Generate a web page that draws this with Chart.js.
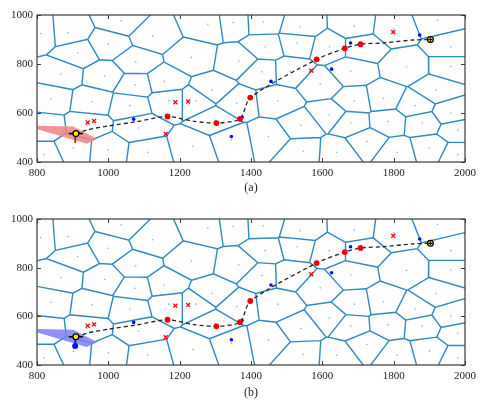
<!DOCTYPE html>
<html>
<head>
<meta charset="utf-8">
<script src="https://cdn.jsdelivr.net/npm/chart.js@4.4.1/dist/chart.umd.min.js"></script>
<style>
  body { margin: 0; background: #fff; width: 481px; height: 400px; overflow: hidden; }
  .box { position: absolute; left: 0; width: 481px; height: 200px; }
</style>
</head>
<body>
<div class="box" style="top:0"><canvas id="chartA" width="481" height="200"></canvas></div>
<div class="box" style="top:200px"><canvas id="chartB" width="481" height="200"></canvas></div>
<script>
const X_TICKS = [800, 1000, 1200, 1400, 1600, 1800, 2000];
const Y_TICKS = [400, 600, 800, 1000];

// voronoi generators (the small dots)
const SEEDS = [
  [810,924],[887,928],[1036,976],[1124,915],[1279,962],[1350,969],[1435,972],[1538,951],
  [1690,955],[1800,945],[1923,978],
  [914,846],[1000,880],[1077,808],[1233,827],[1366,812],[1440,870],[1529,886],[1620,870],
  [1710,870],[1836,789],[1960,870],
  [867,759],[990,751],[1075,715],[1157,729],[1290,694],[1430,768],[1510,770],[1594,717],
  [1680,770],[1919,694],[1960,790],
  [839,658],[954,647],[1060,630],[1170,650],[1245,650],[1360,640],[1475,650],[1619,593],
  [1690,650],[1771,660],[1860,630],[1960,600],
  [820,540],[940,550],[1085,539],[1300,570],[1449,504],[1540,550],[1680,560],[1785,565],
  [1880,560],[1980,530],
  [820,430],[902,456],[1000,450],[1110,440],[1237,464],[1345,490],[1546,444],[1640,440],
  [1725,484],[1810,440],[1900,457],[1980,430]
];

const PATH_X = [909, 945, 1000, 1080, 1166, 1240, 1303, 1369, 1398, 1584, 1663, 1707, 1770, 1855, 1903];
const PATH_Y = [516, 533, 547, 565, 586, 566, 559, 576, 663, 819, 864, 881, 886, 898, 900];

const RED_DOTS_X = [1166, 1303, 1369, 1398, 1584, 1663, 1707];
const RED_DOTS_Y = [586, 559, 576, 663, 819, 864, 881];

const RED_X_X = [942, 960, 1188, 1224, 1161, 1569, 1799];
const RED_X_Y = [561, 567, 644, 647, 514, 773, 931];

const BLUE_X = [1071, 1345, 1375, 1456, 1626, 1679, 1873];
const BLUE_Y = [575, 504, 583, 729, 779, 886, 918];

const START = [909, 516];
const GOAL = [1903, 900];
const HEADING = [907, 478];

const CELL_X = [801, 902, 969, 939, 801];
const CELL_Y = [548, 545, 494, 474, 534];

const clipHalf = (poly, a, b, c) => {
  const out = [];
  for (let k = 0; k < poly.length; k++) {
    const P = poly[k], Q = poly[(k + 1) % poly.length];
    const fp = a * P[0] + b * P[1] - c, fq = a * Q[0] + b * Q[1] - c;
    if (fp <= 0) out.push(P);
    if ((fp < 0 && fq > 0) || (fp > 0 && fq < 0)) {
      const t = fp / (fp - fq);
      out.push([P[0] + t * (Q[0] - P[0]), P[1] + t * (Q[1] - P[1])]);
    }
  }
  return out;
};

const cellOf = i => {
  let poly = [[700, 300], [2100, 300], [2100, 1100], [700, 1100]];
  const [px, py] = SEEDS[i];
  SEEDS.forEach(([qx, qy], j) => {
    if (j === i) return;
    poly = clipHalf(poly, 2 * (qx - px), 2 * (qy - py), qx * qx + qy * qy - px * px - py * py);
  });
  return poly;
};

const edgeData = [];
SEEDS.forEach((_, i) => {
  const poly = cellOf(i);
  poly.forEach(p => edgeData.push({x: p[0], y: p[1]}));
  if (poly.length) edgeData.push({x: poly[0][0], y: poly[0][1]});
  edgeData.push({x: null, y: null});
});

const zip = (xs, ys) => xs.map((x, i) => ({x, y: ys[i]}));

const framePlugin = {
  id: 'frame',
  afterDatasetsDraw(chart) {
    const {ctx, chartArea: a, scales: {x, y}} = chart;
    ctx.save();
    ctx.strokeStyle = '#3a3a3a';
    ctx.lineWidth = 1;
    ctx.beginPath();
    X_TICKS.forEach(v => {
      const p = Math.round(x.getPixelForValue(v)) + 0.5;
      ctx.moveTo(p, a.bottom); ctx.lineTo(p, a.bottom - 4);
      ctx.moveTo(p, a.top); ctx.lineTo(p, a.top + 4);
    });
    Y_TICKS.forEach(v => {
      const p = Math.round(y.getPixelForValue(v)) + 0.5;
      ctx.moveTo(a.left, p); ctx.lineTo(a.left + 4, p);
      ctx.moveTo(a.right, p); ctx.lineTo(a.right - 4, p);
    });
    ctx.stroke();
    ctx.lineWidth = 1.2;
    ctx.strokeRect(a.left, a.top, a.right - a.left, a.bottom - a.top);
    ctx.restore();
  }
};

const FONT = {family: '"Liberation Serif", "DejaVu Serif", serif', size: 11};

const makeChart = (id, label, cellColor, headColor, headDot, top, xh, titlePad) => {
  const datasets = [
    {data: [{x: GOAL[0], y: GOAL[1]}], pointStyle: 'cross', pointRadius: 2, borderColor: '#000', borderWidth: 1.1, order: 0},
    {data: [{x: GOAL[0], y: GOAL[1]}, {x: START[0], y: START[1]}], pointRadius: 2.9, backgroundColor: '#f4f000', borderColor: '#000', borderWidth: 1.2, order: 1},
    {data: [{x: START[0], y: START[1]}], pointStyle: 'line', pointRadius: 7, borderColor: '#000', borderWidth: 1.6, order: 2},
    {data: [{x: START[0], y: START[1]}, {x: HEADING[0], y: HEADING[1]}], showLine: true, pointRadius: [0, headDot], backgroundColor: headColor, borderColor: headColor, borderWidth: 1.6, order: 2},
    {data: zip(RED_DOTS_X, RED_DOTS_Y), pointRadius: 2.9, backgroundColor: '#f00000', borderColor: '#f00000', borderWidth: 0, order: 3},
    {data: zip(BLUE_X, BLUE_Y), pointRadius: 1.8, backgroundColor: '#0010ee', borderWidth: 0, order: 4},
    {data: zip(RED_X_X, RED_X_Y), pointStyle: 'crossRot', pointRadius: 2.8, borderColor: '#ee1111', borderWidth: 1.4, order: 5},
    {data: zip(PATH_X, PATH_Y), showLine: true, pointRadius: 0, borderColor: '#222', borderWidth: 1.3, borderDash: [4, 3], tension: 0.25, order: 6},
    {data: zip(CELL_X, CELL_Y), showLine: true, pointRadius: 0, borderWidth: 0, borderColor: 'rgba(0,0,0,0)', fill: 'shape', backgroundColor: cellColor, order: 7},
    {data: SEEDS.map(s => ({x: s[0], y: s[1]})), pointRadius: 0.8, backgroundColor: '#7fb2dd', borderWidth: 0, order: 8},
    {data: edgeData, showLine: true, spanGaps: false, pointRadius: 0, borderColor: '#3189c2', borderWidth: 1.4, order: 9}
  ];
  return new Chart(document.getElementById(id), {
    type: 'scatter',
    data: {datasets},
    options: {
      responsive: false,
      animation: false,
      events: [],
      layout: {autoPadding: false, padding: {left: 0, right: 10, top: top, bottom: 0}},
      plugins: {legend: {display: false}, tooltip: {enabled: false}},
      scales: {
        x: {
          min: 800, max: 2000,
          afterBuildTicks: s => { s.ticks = X_TICKS.map(v => ({value: v})); },
          afterFit: s => { s.height = xh; },
          grid: {display: false, drawTicks: false},
          border: {display: false},
          ticks: {font: FONT, color: '#222', padding: 5, maxRotation: 0, callback: v => String(v)},
          title: {display: true, text: label, font: {family: FONT.family, size: 12}, color: '#222', padding: {top: 0, bottom: titlePad}}
        },
        y: {
          min: 400, max: 1000,
          afterBuildTicks: s => { s.ticks = Y_TICKS.map(v => ({value: v})); },
          afterFit: s => { s.width = 37; },
          grid: {display: false, drawTicks: false},
          border: {display: false},
          ticks: {font: FONT, color: '#222', padding: 4, callback: v => String(v)}
        }
      }
    },
    plugins: [framePlugin]
  });
};

makeChart('chartA', '(a)', 'rgba(238,130,130,0.85)', '#8a2a2a', 0, 15, 38, 5);
makeChart('chartB', '(b)', 'rgba(125,125,245,0.85)', '#0010ee', 2.2, 19, 35, 0);
</script>
</body>
</html>
